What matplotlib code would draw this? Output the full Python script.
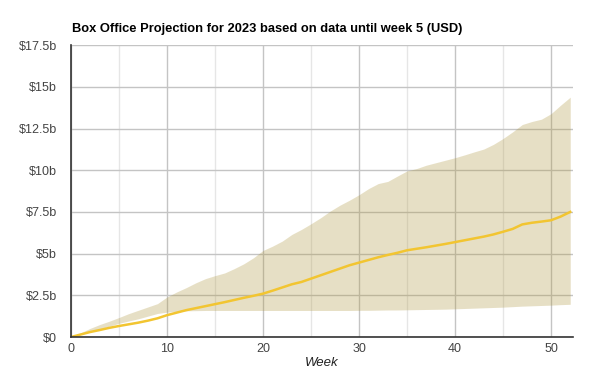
import matplotlib
matplotlib.use("Agg")
import matplotlib.pyplot as plt
from matplotlib.ticker import FuncFormatter, MultipleLocator

plt.rcParams["font.family"] = ["Liberation Sans", "DejaVu Sans"]

weeks = list(range(53))

# median projection, $ billions
median = [0.0, 0.15, 0.3, 0.42, 0.55, 0.66, 0.76, 0.86, 0.98, 1.12, 1.31,
          1.46, 1.61, 1.73, 1.85, 1.97, 2.09, 2.22, 2.35, 2.47, 2.6,
          2.78, 2.97, 3.16, 3.3, 3.5, 3.7, 3.9, 4.1, 4.3, 4.46,
          4.62, 4.78, 4.92, 5.05, 5.2, 5.29, 5.38, 5.48, 5.58, 5.69,
          5.8, 5.91, 6.02, 6.15, 6.31, 6.48, 6.75, 6.85, 6.92, 7.0,
          7.22, 7.5]

upper = [0.0, 0.25, 0.52, 0.75, 0.95, 1.17, 1.4, 1.6, 1.8, 2.0, 2.4,
         2.7, 2.96, 3.25, 3.5, 3.68, 3.84, 4.1, 4.39, 4.75, 5.19,
         5.45, 5.75, 6.15, 6.45, 6.79, 7.15, 7.55, 7.9, 8.2, 8.53,
         8.9, 9.2, 9.33, 9.65, 9.96, 10.1, 10.3, 10.45, 10.6, 10.75,
         10.92, 11.1, 11.27, 11.55, 11.9, 12.3, 12.74, 12.92, 13.06, 13.39,
         13.9, 14.38]

lower = [0.0, 0.15, 0.32, 0.48, 0.65, 0.82, 0.96, 1.09, 1.25, 1.41, 1.49,
         1.53, 1.57, 1.58, 1.59, 1.59, 1.59, 1.59, 1.59, 1.59, 1.59,
         1.59, 1.59, 1.59, 1.59, 1.59, 1.59, 1.59, 1.59, 1.59, 1.6,
         1.6, 1.61, 1.62, 1.62, 1.63, 1.64, 1.65, 1.66, 1.67, 1.69,
         1.71, 1.73, 1.75, 1.77, 1.79, 1.82, 1.85, 1.87, 1.89, 1.91,
         1.94, 1.96]

TITLE = "Box Office Projection for 2023 based on data until week 5 (USD)"


def money(v, _pos):
  if v == 0:
    return "$0"
  return "${:g}b".format(v)


def main():
  fig = plt.figure(figsize=(5.97, 3.73), dpi=100)
  ax = fig.add_axes([0.119, 0.0965, 0.841, 0.7825])

  # translucent band so the grid shows through, like the original
  ax.fill_between(weeks, lower, upper, color="#af9841", alpha=0.3,
                  linewidth=0, zorder=2)
  ax.plot(weeks, median, color="#f2c531", linewidth=1.8, zorder=3)

  ax.set_xlim(0, 52.3)
  ax.set_ylim(0, 17.5)
  ax.xaxis.set_major_locator(MultipleLocator(10))
  ax.xaxis.set_minor_locator(MultipleLocator(5))
  ax.yaxis.set_major_locator(MultipleLocator(2.5))
  ax.yaxis.set_major_formatter(FuncFormatter(money))

  ax.grid(True, which="major", color="#c4c4c4", linewidth=1, zorder=1)
  ax.grid(True, which="minor", axis="x", color="#e6e6e6", linewidth=1, zorder=1)
  ax.set_axisbelow(True)

  for side in ("top", "right"):
    ax.spines[side].set_visible(False)
  for side in ("left", "bottom"):
    ax.spines[side].set_color("#333333")
    ax.spines[side].set_linewidth(1.2)
    ax.spines[side].set_zorder(4)

  ax.tick_params(which="both", length=0, labelsize=9, labelcolor="#444444")
  ax.tick_params(axis="y", pad=10)
  ax.tick_params(axis="x", pad=4)

  ax.set_xlabel("Week", fontsize=9.5, style="italic", color="#222222", labelpad=2)
  fig.text(0.121, 0.914, TITLE, fontsize=9.3, fontweight="bold", color="#000000")

  fig.savefig("out.png", dpi=100)


if __name__ == "__main__":
  main()
